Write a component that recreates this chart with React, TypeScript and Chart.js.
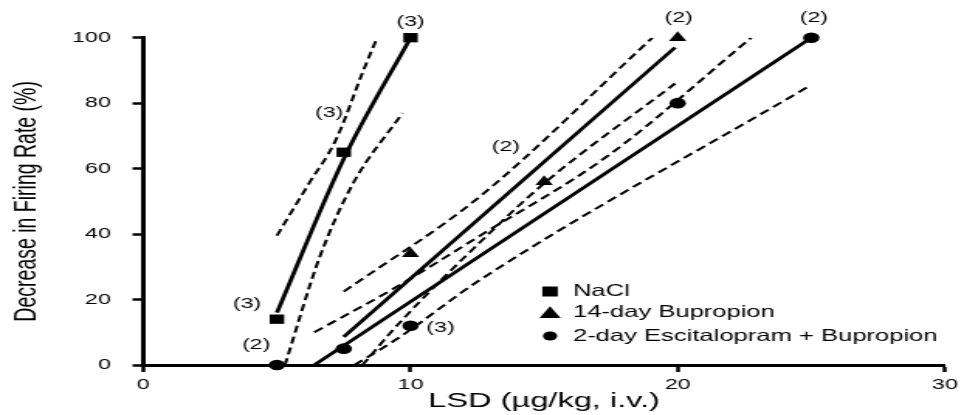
import React, { useEffect, useRef } from 'react';
import { Chart, registerables } from 'chart.js';

Chart.register(...registerables);

const FONT = "'Liberation Sans', Arial, Helvetica, sans-serif";

// ---- observed data points ----
const naclDose = [5, 7.5, 10];
const naclDecrease = [14, 65, 100];
const naclN = [3, 3, 3];

const bupDose = [10, 15, 20];
const bupDecrease = [34, 56, 100];
const bupN = [null, 2, 2];

const escDose = [5, 7.5, 10, 20, 25];
const escDecrease = [0, 5, 12, 80, 100];
const escN = [2, null, 3, null, 2];

// ---- fitted regression lines and confidence bands ----
const naclFitDose = [5, 7.5, 10];
const naclFitY = [16, 63, 100];
const naclUpperDose = [5, 6.2, 7.2, 8.26, 8.75];
const naclUpperY = [39.5, 55.5, 68.7, 90.5, 100];
const naclLowerDose = [5.3, 6.6, 7.85, 9.7];
const naclLowerY = [0, 33, 55.5, 77];

const bupFitDose = [7.5, 19.9];
const bupFitY = [8.6, 97];
const bupUpperDose = [7.5, 12.6, 19.05];
const bupUpperY = [22.4, 51.5, 100];
const bupLowerDose = [8.2, 9.6, 12.6, 15, 19.9];
const bupLowerY = [0, 13, 37.5, 55.5, 86];

const escFitDose = [6.4, 25];
const escFitY = [0, 100];
const escUpperDose = [6.4, 9.4, 12.6, 17.4, 22.75];
const escUpperY = [10, 23.5, 39.5, 64, 100];
const escLowerDose = [7.9, 9.5, 12.6, 25];
const escLowerY = [0, 8, 26, 85.6];

// ---- axis ticks / texts ----
const xTicks = [0, 10, 20, 30];
const yTicks = [0, 20, 40, 60, 80, 100];
const legendLabels = ['NaCl', '14-day Bupropion', '2-day Escitalopram + Bupropion'];
const xTitle = 'LSD (µg/kg, i.v.)';
const yTitle = 'Decrease in Firing Rate (%)';

// ---- layout (internal canvas pixels; the canvas is displayed stretched horizontally) ----
const CANVAS_W = 622;
const CANVAS_H = 415;
const SHOWN_W = 964;
const naclLabelOffsets = [[-19.3, -15.2], [-9.4, -39], [0, -16]];
const bupLabelOffsets = [[0, 0], [-24.7, -35], [0.6, -19.4]];
const escLabelOffsets = [[-13.4, -20], [0, 0], [19.4, 2.6], [0, 0], [1.7, -19.4]];
const LEGEND_MARK_X = 354.9;
const LEGEND_TEXT_X = 369.7;
const LEGEND_ROWS = [291.5, 312.5, 336];

const pts = (xs: number[], ys: number[]) => xs.map((x, i) => ({ x, y: ys[i] }));

const lineDs = (xs: number[], ys: number[], dashed: boolean) => ({
  data: pts(xs, ys),
  showLine: true,
  pointRadius: 0,
  pointHoverRadius: 0,
  borderColor: '#000',
  backgroundColor: '#000',
  borderWidth: dashed ? 2 : 2.8,
  borderDash: dashed ? [7, 4] : [],
  cubicInterpolationMode: 'monotone',
  fill: false,
  order: 1,
});

const annotatePlugin = {
  id: 'annotate',
  afterDatasetsDraw(chart: any) {
    const ctx = chart.ctx;
    ctx.save();
    ctx.fillStyle = '#000';
    ctx.font = `15px ${FONT}`;
    ctx.textAlign = 'center';
    ctx.textBaseline = 'middle';
    const groups = [
      { n: naclN, off: naclLabelOffsets },
      { n: bupN, off: bupLabelOffsets },
      { n: escN, off: escLabelOffsets },
    ];
    groups.forEach((g, di) => {
      const meta = chart.getDatasetMeta(di);
      g.n.forEach((n, j) => {
        if (n == null) return;
        const el = meta.data[j];
        ctx.fillText(`(${n})`, el.x + g.off[j][0], el.y + g.off[j][1]);
      });
    });

    // legend
    ctx.font = `16.5px ${FONT}`;
    ctx.textAlign = 'left';
    legendLabels.forEach((label, i) => {
      const y = LEGEND_ROWS[i];
      const x = LEGEND_MARK_X;
      ctx.beginPath();
      if (i === 0) {
        ctx.rect(x - 5, y - 5, 10, 10);
      } else if (i === 1) {
        ctx.moveTo(x, y - 6.2);
        ctx.lineTo(x + 6.8, y + 5.5);
        ctx.lineTo(x - 6.8, y + 5.5);
        ctx.closePath();
      } else {
        ctx.arc(x, y, 4.6, 0, Math.PI * 2);
      }
      ctx.fill();
      ctx.fillText(label, LEGEND_TEXT_X, y);
    });
    ctx.restore();
  },
};

export default function App() {
  const ref = useRef<HTMLCanvasElement | null>(null);
  useEffect(() => {
    if (!ref.current) return;
    const chart = new Chart(ref.current, {
      type: 'scatter',
      data: {
        datasets: [
          {
            label: legendLabels[0],
            data: pts(naclDose, naclDecrease),
            pointStyle: 'rect',
            pointRadius: 6.6,
            pointHoverRadius: 6.6,
            backgroundColor: '#000',
            borderColor: '#000',
            borderWidth: 0,
            clip: false,
            order: 0,
          },
          {
            label: legendLabels[1],
            data: pts(bupDose, bupDecrease),
            pointStyle: 'triangle',
            pointRadius: 6.5,
            pointHoverRadius: 6.5,
            backgroundColor: '#000',
            borderColor: '#000',
            borderWidth: 0,
            clip: false,
            order: 0,
          },
          {
            label: legendLabels[2],
            data: pts(escDose, escDecrease),
            pointStyle: 'circle',
            pointRadius: 5.3,
            pointHoverRadius: 5.3,
            backgroundColor: '#000',
            borderColor: '#000',
            borderWidth: 0,
            clip: false,
            order: 0,
          },
          lineDs(naclFitDose, naclFitY, false),
          lineDs(naclUpperDose, naclUpperY, true),
          lineDs(naclLowerDose, naclLowerY, true),
          lineDs(bupFitDose, bupFitY, false),
          lineDs(bupUpperDose, bupUpperY, true),
          lineDs(bupLowerDose, bupLowerY, true),
          lineDs(escFitDose, escFitY, false),
          lineDs(escUpperDose, escUpperY, true),
          lineDs(escLowerDose, escLowerY, true),
        ] as any,
      },
      options: {
        animation: false,
        responsive: false,
        maintainAspectRatio: false,
        devicePixelRatio: 1,
        events: [],
        layout: { padding: { top: 37.7, right: 10.3, bottom: 0, left: 0 } },
        plugins: {
          legend: { display: false },
          tooltip: { enabled: false },
        },
        scales: {
          x: {
            type: 'linear',
            min: xTicks[0],
            max: xTicks[xTicks.length - 1],
            afterBuildTicks: (s: any) => {
              s.ticks = xTicks.map((v) => ({ value: v }));
            },
            ticks: { padding: 4, color: '#000', font: { family: FONT, size: 15 }, maxRotation: 0 },
            grid: { drawOnChartArea: false, drawTicks: true, tickLength: 7, tickWidth: 2.5, tickColor: '#000' },
            border: { display: true, color: '#000', width: 3 },
            title: {
              display: true,
              text: xTitle,
              color: '#000',
              font: { family: FONT, size: 21 },
              padding: { top: 0, bottom: 1.4 },
            },
            afterFit: (s: any) => {
              s.height = 50;
            },
          },
          y: {
            type: 'linear',
            min: yTicks[0],
            max: yTicks[yTicks.length - 1],
            afterBuildTicks: (s: any) => {
              s.ticks = yTicks.map((v) => ({ value: v }));
            },
            ticks: { padding: 14, color: '#000', font: { family: FONT, size: 15 } },
            grid: { drawOnChartArea: false, drawTicks: true, tickLength: 7, tickWidth: 2.5, tickColor: '#000' },
            border: { display: true, color: '#000', width: 3 },
            title: {
              display: true,
              text: yTitle,
              color: '#000',
              font: { family: FONT, size: 19.5 },
              padding: { top: 6, bottom: 0 },
            },
            afterFit: (s: any) => {
              s.width = 92.5;
            },
          },
        },
      } as any,
      plugins: [annotatePlugin],
    });
    return () => chart.destroy();
  }, []);

  return (
    <div style={{ position: 'fixed', left: 0, top: 0, width: SHOWN_W, height: CANVAS_H, background: '#fff' }}>
      <canvas
        ref={ref}
        width={CANVAS_W}
        height={CANVAS_H}
        style={{ width: `${SHOWN_W}px`, height: `${CANVAS_H}px`, display: 'block' }}
      />
    </div>
  );
}
